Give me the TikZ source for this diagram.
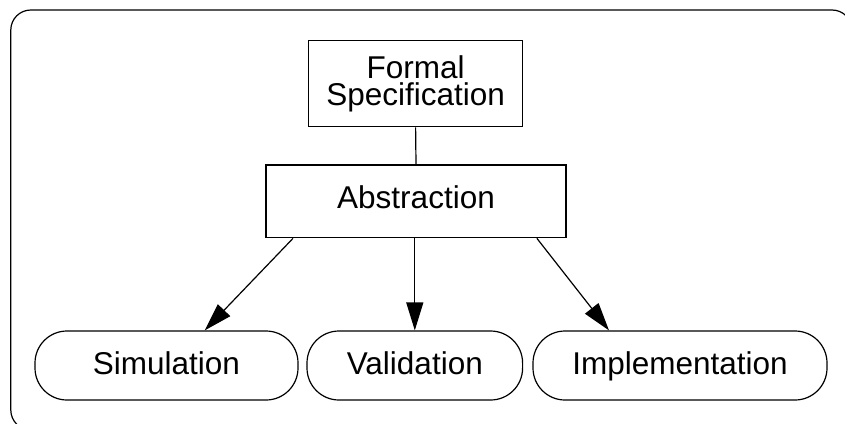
\documentclass[tikz,border=0pt]{standalone}
\usepackage{fontspec}
\setmainfont{Liberation Sans}
\usetikzlibrary{arrows.meta}
\begin{document}
\begin{tikzpicture}[x=1pt,y=-1pt,
  every node/.style={font=\fontsize{31.5}{26.8}\selectfont, inner sep=0pt, line width=1.2pt},
  squarebox/.style={draw, rectangle, align=center},
  pillbox/.style={draw, rectangle, rounded corners=32pt, minimum height=69pt,
    text height=23pt, text depth=5.4pt},
  link/.style={line width=1.2pt},
  arr/.style={link, -{Triangle[length=28pt,width=17pt]}}]
  \useasboundingbox (0,0) rectangle (845,423);
  \clip (0,0) rectangle (845,423);
  % outer frame, running past the right and bottom edges
  \draw[line width=1.2pt, rounded corners=20pt] (10.8,10) rectangle (852,430);

  \node[squarebox, minimum width=214pt, minimum height=86.5pt] (spec) at (415.6,83.5)
    {Formal\\Specification};
  \node[squarebox, minimum width=300pt, minimum height=72.7pt,
    text height=23pt, text depth=8pt] (abs) at (416,201.4) {Abstraction};

  \node[pillbox, minimum width=263pt] (sim) at (166.5,365.5) {Simulation};
  \node[pillbox, minimum width=215.6pt] (val) at (414.8,365.5) {Validation};
  \node[pillbox, minimum width=294pt] (imp) at (680,365.5) {Implementation};

  \draw[link] (spec.south) -- (abs.north);
  \draw[arr] ([xshift=27.6pt]abs.south west) -- ([xshift=38.2pt]sim.north);
  \draw[arr] (val.north |- abs.south) -- (val.north);
  \draw[arr] ([xshift=-29.7pt]abs.south east) -- ([xshift=-71pt]imp.north);
\end{tikzpicture}
\end{document}
